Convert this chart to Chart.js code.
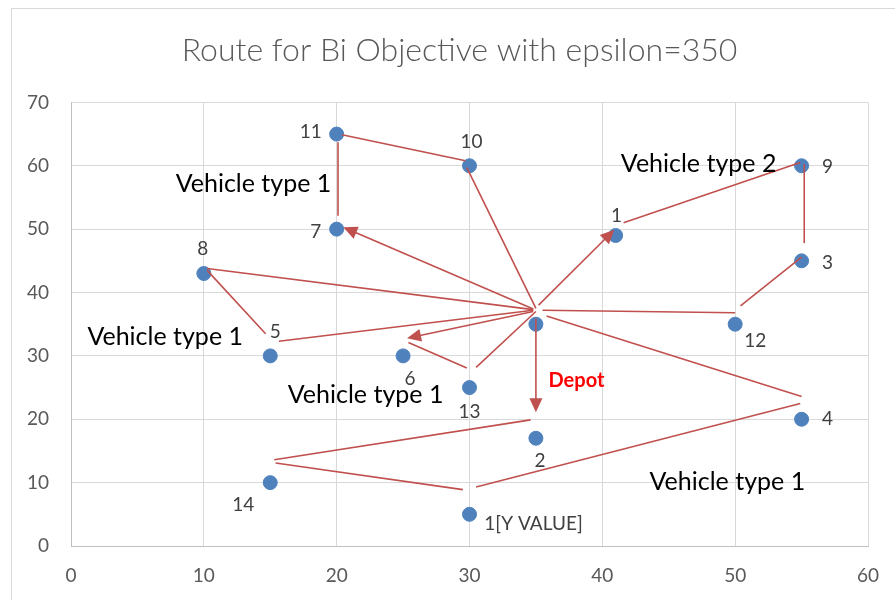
<!DOCTYPE html>
<html>
<head>
<meta charset="utf-8">
<script src="https://cdn.jsdelivr.net/npm/chart.js@4.4.0/dist/chart.umd.min.js"></script>
<style>
    body {
        margin: 0;
        background: #fff;
        overflow: hidden;
    }
    .chart-box {
        position: absolute;
        left: 11px;
        top: 8px;
        width: 895px;
        height: 600px;
        border: 1px solid #d9d9d9;
    }
    canvas {
        display: block;
    }
</style>
</head>
<body>
<div class="chart-box">
    <canvas id="routeChart" width="895" height="600"></canvas>
</div>

<script>
    // customer / depot locations
    const nodeX = [20, 30, 20, 10, 41, 55, 55, 35, 50, 15, 25, 30, 55, 35, 15, 30]
    const nodeY = [65, 60, 50, 43, 49, 60, 45, 35, 35, 30, 30, 25, 20, 17, 10, 5]
    const nodeLabels = ['11', '10', '7', '8', '1', '9', '3', '', '12', '5', '6', '13', '4', '2', '14', '1[Y VALUE]']

    // route segments drawn on the chart: x1, y1, x2, y2, arrow head at end
    const routeSegments = [
        [35.2, 38.0, 40.9, 49.9, true],
        [41.6, 51.0, 54.9, 60.5, false],
        [55.2, 60.3, 55.2, 47.8, false],
        [55.0, 45.6, 50.4, 37.9, false],
        [50.0, 36.8, 35.5, 37.2, false],
        [35.0, 37.5, 29.8, 59.7, false],
        [29.7, 60.8, 20.4, 64.9, false],
        [20.1, 63.7, 20.1, 52.1, false],
        [34.8, 37.4, 20.5, 50.3, true],
        [34.8, 37.3, 10.25, 43.8, false],
        [10.25, 43.5, 14.65, 33.5, false],
        [15.65, 32.3, 34.8, 37.2, false],
        [34.8, 37.0, 25.3, 32.8, true],
        [25.4, 32.1, 29.8, 28.1, false],
        [30.5, 28.2, 35.0, 37.0, false],
        [35.0, 35.9, 35.0, 21.1, true],
        [34.6, 19.9, 15.3, 13.6, false],
        [15.4, 13.1, 29.5, 8.9, false],
        [30.5, 9.3, 54.9, 22.5, false],
        [55.0, 23.6, 35.8, 36.3, false]
    ]

    // free text boxes
    const noteText = ['Vehicle type 1', 'Vehicle type 2', 'Vehicle type 1', 'Vehicle type 1', 'Vehicle type 1', 'Depot']
    const noteX = [13.74, 47.25, 7.09, 22.18, 49.41, 38.05]
    const noteY = [57.2, 60.3, 33.06, 23.76, 10.04, 26.1]

    const xTicks = [0, 10, 20, 30, 40, 50, 60]
    const yTicks = [0, 10, 20, 30, 40, 50, 60, 70]

    // where each point label sits, in pixels from the dot
    const labelShift = [
        [-26, -2], [2, -24], [-21, 3], [-1, -25], [1, -20], [26, 1], [26, 2], [0, 0],
        [20, 17], [5, -24], [7, 23], [0, 24], [26, 0], [4, 23], [-27, 22], [64, 10]
    ]

    const red = '#C0504D'
    const fontName = "Lato, 'Open Sans', sans-serif"

    const routePlugin = {
        id: 'routePlugin',
        afterLayout(chart) {
            // center the title on the whole chart, not only left of the right padding
            if (chart.titleBlock) {
                chart.titleBlock.left = 0
                chart.titleBlock.right = chart.width
            }
        },
        afterDatasetsDraw(chart) {
            const ctx = chart.ctx
            const xs = chart.scales.x
            const ys = chart.scales.y
            ctx.save()
            ctx.strokeStyle = red
            ctx.fillStyle = red
            ctx.lineWidth = 1.6
            routeSegments.forEach(s => {
                const x1 = xs.getPixelForValue(s[0])
                const y1 = ys.getPixelForValue(s[1])
                const x2 = xs.getPixelForValue(s[2])
                const y2 = ys.getPixelForValue(s[3])
                const ang = Math.atan2(y2 - y1, x2 - x1)
                let ex = x2, ey = y2
                if (s[4]) {
                    ex = x2 - Math.cos(ang) * 12
                    ey = y2 - Math.sin(ang) * 12
                }
                ctx.beginPath()
                ctx.moveTo(x1, y1)
                ctx.lineTo(ex, ey)
                ctx.stroke()
                if (s[4]) {
                    const len = 14, half = 6.5
                    const bx = x2 - Math.cos(ang) * len
                    const by = y2 - Math.sin(ang) * len
                    ctx.beginPath()
                    ctx.moveTo(x2, y2)
                    ctx.lineTo(bx + Math.sin(ang) * half, by - Math.cos(ang) * half)
                    ctx.lineTo(bx - Math.sin(ang) * half, by + Math.cos(ang) * half)
                    ctx.closePath()
                    ctx.fill()
                }
            })

            // point labels
            const meta = chart.getDatasetMeta(0)
            ctx.font = '19px ' + fontName
            ctx.fillStyle = '#404040'
            ctx.textAlign = 'center'
            ctx.textBaseline = 'middle'
            meta.data.forEach((pt, i) => {
                if (!nodeLabels[i]) return
                ctx.fillText(nodeLabels[i], pt.x + labelShift[i][0], pt.y + labelShift[i][1])
            })

            // text boxes
            noteText.forEach((t, i) => {
                if (t === 'Depot') {
                    ctx.font = 'bold 20px ' + fontName
                    ctx.fillStyle = '#ff0000'
                } else {
                    ctx.font = '25px ' + fontName
                    ctx.fillStyle = '#000000'
                }
                ctx.fillText(t, xs.getPixelForValue(noteX[i]), ys.getPixelForValue(noteY[i]))
            })
            ctx.restore()
        }
    }

    const points = nodeX.map((x, i) => ({ x: x, y: nodeY[i] }))

    const config = {
        type: 'scatter',
        data: {
            datasets: [{
                label: 'Nodes',
                data: points,
                backgroundColor: '#4F81BD',
                borderColor: '#4F81BD',
                pointRadius: 7,
                pointHoverRadius: 7
            }]
        },
        options: {
            responsive: false,
            animation: false,
            layout: {
                padding: { left: 0, right: 39, top: 0, bottom: 18 }
            },
            plugins: {
                legend: { display: false },
                tooltip: { enabled: false },
                title: {
                    display: true,
                    text: 'Route for Bi Objective with epsilon=350',
                    color: '#595959',
                    font: { family: fontName, size: 32, weight: '300' },
                    padding: { top: 22, bottom: 33 }
                }
            },
            scales: {
                x: {
                    type: 'linear',
                    min: 0,
                    max: 60,
                    afterBuildTicks: (scale) => { scale.ticks = xTicks.map(v => ({ value: v })) },
                    afterFit: (scale) => { scale.height = 45 },
                    grid: { color: '#d9d9d9', drawTicks: false },
                    border: { color: '#bfbfbf', width: 1 },
                    ticks: { color: '#595959', font: { family: fontName, size: 19 }, padding: 18 }
                },
                y: {
                    type: 'linear',
                    min: 0,
                    max: 70,
                    afterBuildTicks: (scale) => { scale.ticks = yTicks.map(v => ({ value: v })) },
                    afterFit: (scale) => { scale.width = 59 },
                    grid: { color: '#d9d9d9', drawTicks: false },
                    border: { color: '#bfbfbf', width: 1 },
                    ticks: { color: '#595959', font: { family: fontName, size: 19 }, padding: 22 }
                }
            }
        },
        plugins: [routePlugin]
    }

    const myChart = new Chart(document.getElementById('routeChart'), config)
</script>
</body>
</html>
